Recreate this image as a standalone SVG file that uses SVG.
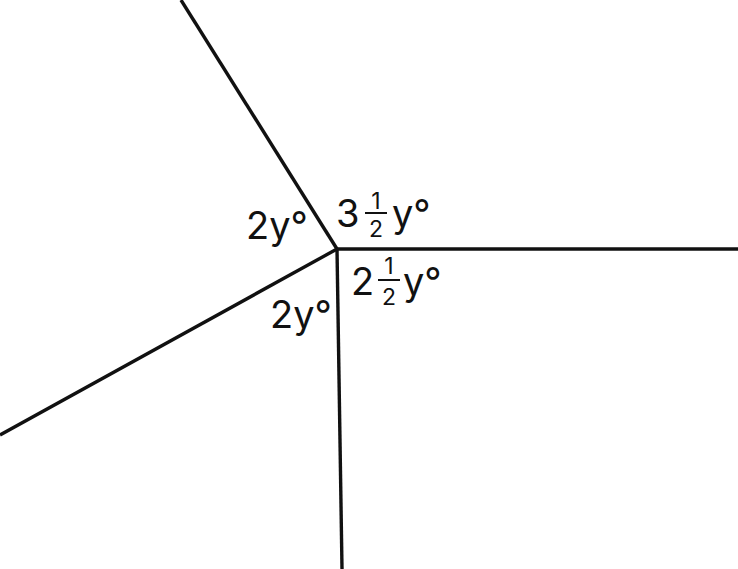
<svg xmlns="http://www.w3.org/2000/svg" width="738" height="569" viewBox="0 0 738 569">
<style>
.ln{stroke:#111;stroke-width:3.4;fill:none;stroke-linecap:butt}
.t{font-family:Inter,"Liberation Sans",Arial,sans-serif;font-size:38px;fill:#111}
.f{font-family:Inter,"Liberation Sans",Arial,sans-serif;font-size:23px;fill:#111;text-anchor:middle}
.bar{stroke:#111;stroke-width:2}
</style>
<rect width="738" height="569" fill="#fff"/>
<g id="connectors">
<line class="ln" x1="337" y1="249" x2="181" y2="0"/>
<line class="ln" x1="337" y1="249" x2="738" y2="249"/>
<line class="ln" x1="337" y1="249" x2="0" y2="435"/>
<line class="ln" x1="337" y1="249" x2="342" y2="569"/>
</g>
<g id="label-left">
<text class="t" x="246" y="239">2y°</text>
</g>
<g id="label-bottom">
<text class="t" x="270" y="328">2y°</text>
</g>
<g id="label-top-right">
<text class="t" x="336" y="227">3</text>
<text class="f" x="376" y="209">1</text>
<line class="bar" x1="365" y1="213" x2="387" y2="213"/>
<text class="f" x="376" y="237">2</text>
<text class="t" x="392" y="227">y°</text>
</g>
<g id="label-bottom-right">
<text class="t" x="351" y="295">2</text>
<text class="f" x="389" y="274">1</text>
<line class="bar" x1="378" y1="280" x2="400" y2="280"/>
<text class="f" x="389" y="305">2</text>
<text class="t" x="403" y="295">y°</text>
</g>
</svg>
